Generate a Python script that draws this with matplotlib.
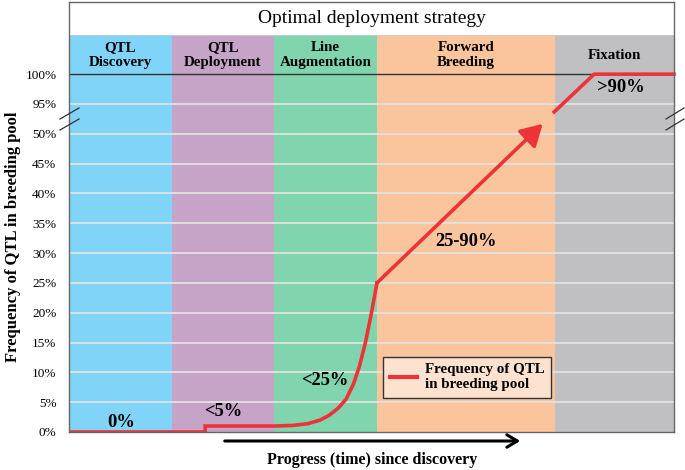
import numpy as np
import matplotlib
matplotlib.use("Agg")
import matplotlib.pyplot as plt
from matplotlib.lines import Line2D

# ---------------- data ----------------
phases = ["QTL\nDiscovery", "QTL\nDeployment", "Line\nAugmentation", "Forward\nBreeding", "Fixation"]
phase_edges = [0, 17.0, 33.9, 50.9, 80.3, 100]
phase_colors = ["#80d4f8", "#c6a4c7", "#80d5ae", "#fac49c", "#c0c0c2"]

# curve (progress units, true percent)
early_x = [0, 22.5, 22.5, 34.0, 37.0, 39.5, 41.5, 43.0, 44.5, 45.8, 47.0, 48.0, 49.0, 50.0, 50.9]
early_y = [0, 0, 1.0, 1.0, 1.1, 1.4, 2.0, 2.8, 4.0, 5.5, 8.0, 11.0, 15.0, 20.0, 25.0]
forward_x = [50.9, 78.3]
forward_y = [25.0, 65.0]
fix_x = [80.2, 86.8, 100]
fix_y = [83.0, 100, 100]

ytick_vals = [0, 5, 10, 15, 20, 25, 30, 35, 40, 45, 50, 95, 100]
ytick_labels = [f"{v}%" for v in ytick_vals]

phase_labels = ["0%", "<5%", "<25%", "25-90%", ">90%"]

# broken-axis mapping: true percent -> display units
def disp(v):
    return np.interp(v, [0, 50, 95, 100], [0, 50, 55, 60])

plt.rcParams['font.family'] = ['Liberation Serif', 'DejaVu Serif']

fig = plt.figure(figsize=(6.85, 4.70), dpi=100)
ax = fig.add_axes([69/685, 38/470, 605/685, 430/470])
ax.set_xlim(0, 100)
ax.set_ylim(0, 72.1)

band_top = 66.6
for i in range(len(phases)):
    ax.axvspan(phase_edges[i], phase_edges[i+1], ymin=0, ymax=band_top/72.1,
               color=phase_colors[i], lw=0, zorder=0)
    ax.text((phase_edges[i] + phase_edges[i+1]) / 2, 63.2, phases[i],
            ha="center", va="center", fontsize=10.8, fontweight="bold",
            linespacing=1.2, zorder=5)
ax.axhline(band_top, color="#cccccc", lw=0.6, zorder=1)

ax.text(50, 69.4, "Optimal deployment strategy", ha="center", va="center", fontsize=14)

# gridlines
for v in ytick_vals[1:-1]:
    ax.axhline(disp(v), color="#e2e2e2", lw=1.3, zorder=1)
ax.axhline(disp(100), color="#333333", lw=1.0, zorder=2)

red = "#ee3338"
ax.plot(early_x, disp(np.array(early_y)), color=red, lw=2.6, zorder=4, solid_joinstyle="miter")
ax.plot(fix_x, disp(np.array(fix_y)), color=red, lw=2.6, zorder=4, clip_on=False)
ax.annotate("", xy=(forward_x[1], disp(forward_y[1])), xytext=(forward_x[0], disp(forward_y[0])),
            arrowprops=dict(arrowstyle="-|>,head_length=1.3,head_width=0.75", color=red, lw=2.6,
                            shrinkA=0, shrinkB=0), zorder=4)

# phase annotations
lab_pos = [(8.6, 1.6), (25.5, 3.4), (42.3, 8.6), (65.6, 32.0), (91.2, 57.7)]
for t, (x, y) in zip(phase_labels, lab_pos):
    ax.text(x, y, t, ha="center", va="center", fontsize=13.3, fontweight="bold", zorder=5)

# legend
h = Line2D([], [], color=red, lw=3)
leg = ax.legend([h], ["Frequency of QTL\nin breeding pool"], loc="lower left",
                bbox_to_anchor=(0.519, 0.079), borderaxespad=0, fancybox=False,
                framealpha=1, facecolor="#fde3cf", edgecolor="#333333",
                prop=dict(family="Liberation Serif", weight="bold", size=10.8),
                handlelength=1.8, handletextpad=0.55, borderpad=0.45)
leg.get_frame().set_linewidth(1.0)
leg.set_zorder(6)

# axes styling
ax.set_yticks(disp(np.array(ytick_vals)))
ax.set_yticklabels(ytick_labels, fontsize=9.5)
ax.tick_params(axis="y", length=0, pad=9)
ax.set_xticks([])
for s in ax.spines.values():
    s.set_color("#666666")
    s.set_linewidth(1.0)
    s.set_zorder(7)

fig.text(13/685, 1 - 237/470, "Frequency of QTL in breeding pool", rotation=90,
         ha="center", va="center", fontsize=12, fontweight="bold")
fig.text(372/685, 1 - 460/470, "Progress (time) since discovery", ha="center", va="center",
         fontsize=11.5, fontweight="bold")

# progress arrow below axis
fig.add_artist(matplotlib.patches.FancyArrowPatch((222/685, 1 - 441/470), (523/685, 1 - 441/470),
               transform=fig.transFigure, arrowstyle="->,head_length=5,head_width=3",
               color="black", lw=2.2, mutation_scale=1.5))

# break marks
for x0, x1 in [(60, 79), (666, 684)]:
    for yy in [(119, 108), (130, 119)]:
        fig.add_artist(Line2D([x0/685, x1/685], [1 - yy[0]/470, 1 - yy[1]/470],
                              transform=fig.transFigure, color="#333333", lw=0.9))

fig.savefig("out.png", dpi=100)
